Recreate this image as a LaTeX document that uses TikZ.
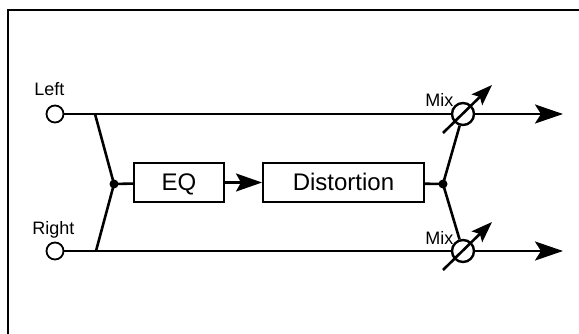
\documentclass[tikz,border=0pt]{standalone}
\usepackage{fontspec}
\setmainfont{Liberation Sans}
\usetikzlibrary{arrows.meta}
\begin{document}
\begin{tikzpicture}[x=1pt,y=-1pt, line width=2.6pt,
  port/.style={circle, draw, fill=white, minimum size=17pt, inner sep=0pt, line width=1.8pt},
  mixc/.style={circle, draw, fill=white, minimum size=22pt, inner sep=0pt, line width=2.4pt},
  blk/.style={draw, minimum height=39pt, inner sep=0pt, text height=17pt, text depth=0pt, font=\fontsize{24}{24}\selectfont, line width=2pt},
  lbl/.style={font=\fontsize{18}{18}\selectfont, inner sep=0pt},
  jdot/.style={circle, fill, minimum size=9pt, inner sep=0pt},
  outarrow/.style={-{Stealth[length=28pt,width=19pt,inset=6pt]}},
  midarrow/.style={-{Stealth[length=26pt,width=18pt,inset=5pt]}},
  vararrow/.style={-{Stealth[length=21pt,width=15pt,inset=4pt]}},
]
\useasboundingbox (0,0) rectangle (579,334);
\draw[line width=1.8pt] (8,334) -- (8,10) -- (579,10);

\node[port] (L) at (55,114) {};
\node[port] (R) at (55,251) {};
\node[lbl, anchor=base west] (Ltxt) at (33,96) {Left};
\node[lbl, anchor=base west] (Rtxt) at (31,235) {Right};

\coordinate (s1) at (95,114);
\coordinate (s2) at (96,251);
\node[jdot] (j1) at (114,184) {};
\node[blk, minimum width=90pt] (eq) at (179,182.5) {EQ};
\node[blk, minimum width=161pt] (dist) at (343.5,182.5) {Distortion};
\node[jdot] (j2) at (443,184) {};

\node[mixc] (m1) at (463,114) {};
\node[mixc] (m2) at (463,251) {};
\node[lbl, anchor=base west] (mx1) at (424,107) {Mix};
\node[lbl, anchor=base west] (mx2) at (424,245) {Mix};

\coordinate (o1) at (563,114);
\coordinate (o2) at (563,251);

\draw (L) -- (m1);
\draw (R) -- (m2);
\draw[outarrow] (m1) -- (o1);
\draw[outarrow] (m2) -- (o2);
\draw (s1) -- (j1.center) -- (s2);
\draw (j1.center) -- (eq);
\draw[midarrow] (eq) -- (dist);
\draw (dist) -- (j2.center);
\draw (j2.center) -- (m1);
\draw (j2.center) -- (m2);

\draw[vararrow] ([shift={(-20,19)}]m1.center) -- ([shift={(29,-29)}]m1.center);
\draw[vararrow] ([shift={(-20,19)}]m2.center) -- ([shift={(29,-29)}]m2.center);
\end{tikzpicture}
\end{document}
